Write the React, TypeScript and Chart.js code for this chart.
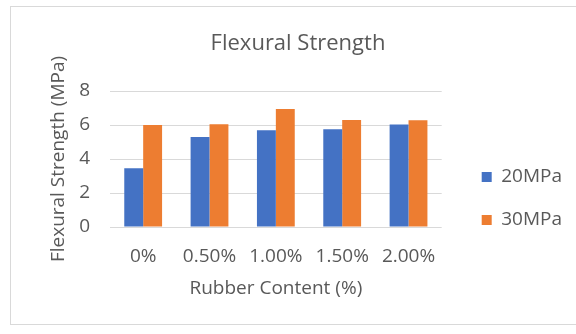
import React, { useEffect, useRef } from "react";
import { Chart, registerables } from "chart.js";

Chart.register(...registerables);

const categories = ["0%", "0.50%", "1.00%", "1.50%", "2.00%"];
const series20MPa = [3.45, 5.3, 5.69, 5.75, 6.03];
const series30MPa = [6.0, 6.04, 6.94, 6.29, 6.28];
const seriesNames = ["20MPa", "30MPa"];
const yTicks = [0, 2, 4, 6, 8];

const FONT = "'Open Sans', sans-serif";
const TEXT = "#595959";

const borderPlugin = {
  id: "outerBorder",
  beforeDraw(chart: any) {
    const ctx = chart.ctx;
    ctx.save();
    ctx.fillStyle = "#ffffff";
    ctx.fillRect(0, 0, chart.width, chart.height);
    ctx.strokeStyle = "#d9d9d9";
    ctx.lineWidth = 1;
    ctx.strokeRect(10.5, 6.5, 700, 318);
    ctx.restore();
  },
};

export default function App() {
  const ref = useRef<HTMLCanvasElement>(null);
  useEffect(() => {
    document.body.style.margin = "0";
    const chart = new Chart(ref.current!, {
      type: "bar",
      data: {
        labels: categories,
        datasets: [
          { label: seriesNames[0], data: series20MPa, backgroundColor: "#4472c4", yAxisID: "y" },
          { label: seriesNames[1], data: series30MPa, backgroundColor: "#ed7d31", yAxisID: "y" },
        ],
      },
      options: {
        animation: false,
        responsive: false,
        layout: { padding: { top: 0, left: 24, right: 4, bottom: 0 } },
        datasets: { bar: { categoryPercentage: 0.57, barPercentage: 1 } },
        scales: {
          x: {
            grid: { display: false },
            border: { display: false },
            ticks: { color: TEXT, font: { family: FONT, size: 19 }, padding: 10, maxRotation: 0 },
            title: {
              display: true,
              text: "Rubber Content (%)",
              color: TEXT,
              font: { family: FONT, size: 19 },
              padding: { top: 0, bottom: 34 },
            },
            afterFit: (s: any) => {
              s.height = 107;
            },
          },
          y: {
            min: 0,
            max: 8,
            afterBuildTicks: (s: any) => {
              s.ticks = yTicks.map((v) => ({ value: v }));
            },
            grid: { color: "#d9d9d9", drawTicks: false },
            border: { display: false },
            ticks: { color: TEXT, font: { family: FONT, size: 19 }, padding: 20 },
            title: {
              display: true,
              text: "Flexural Strength (MPa)",
              color: TEXT,
              font: { family: FONT, size: 19 },
              padding: { top: 23, bottom: 0 },
            },
            afterFit: (s: any) => {
              s.width = 86;
            },
          },
          pad: {
            type: "linear",
            position: "right",
            display: true,
            grid: { display: false },
            border: { display: false },
            ticks: { display: false },
            afterFit: (s: any) => {
              s.width = 16;
            },
          },
        },
        plugins: {
          title: {
            display: true,
            text: "Flexural Strength",
            color: TEXT,
            font: { family: FONT, size: 22, weight: "normal" },
            padding: { top: 31, bottom: 33.6 },
          },
          legend: {
            position: "right",
            align: "center",
            maxWidth: 200,
            title: { display: true, text: " ", font: { size: 10 }, padding: 25.5 },
            labels: {
              boxWidth: 10,
              boxHeight: 10,
              padding: 24,
              color: TEXT,
              font: { family: FONT, size: 19 },
            },
          },
          tooltip: { enabled: false },
        },
      },
      plugins: [borderPlugin],
    });
    return () => chart.destroy();
  }, []);
  return (
    <div style={{ width: 576, height: 334 }}>
      <canvas ref={ref} width={576} height={334} style={{ display: "block" }} />
    </div>
  );
}
